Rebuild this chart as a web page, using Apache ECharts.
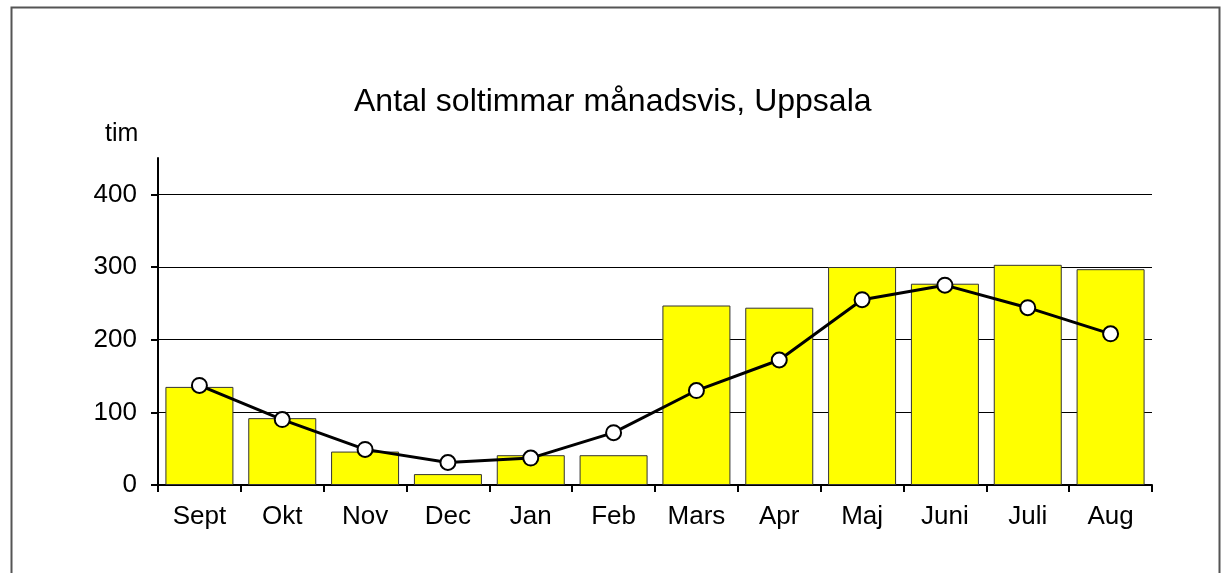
<!DOCTYPE html>
<html>
<head>
<meta charset="utf-8">
<script src="https://cdn.jsdelivr.net/npm/echarts@6/dist/echarts.min.js"></script>
<style>
  html, body { margin: 0; padding: 0; background: #fff; }
  #main { width: 1223px; height: 573px; }
</style>
</head>
<body>
<div id="main"></div>
<script>
var months = ['Sept', 'Okt', 'Nov', 'Dec', 'Jan', 'Feb', 'Mars', 'Apr', 'Maj', 'Juni', 'Juli', 'Aug'];
var barValues = [135, 92, 46, 15, 41, 41, 247, 244, 300, 277, 303, 297];
var lineValues = [137, 90, 49, 31, 37, 72, 130, 172, 255, 275, 244, 208];
var yTicks = [0, 100, 200, 300, 400];

var chart = echarts.init(document.getElementById('main'));
var font = 'Liberation Sans, Arial, sans-serif';

var option = {
    backgroundColor: '#fff',
    animation: false,
    title: {
        text: 'Antal soltimmar månadsvis, Uppsala',
        left: 349,
        top: 81,
        textStyle: { fontFamily: font, fontSize: 32, fontWeight: 'normal', color: '#000' }
    },
    graphic: [{
        type: 'rect',
        shape: { x: 11.5, y: 7.5, width: 1208, height: 600 },
        style: { fill: 'none', stroke: '#555', lineWidth: 2 }
    }, {
        type: 'text',
        left: 105,
        top: 122,
        style: { text: 'tim', font: '25px ' + font, fill: '#000' }
    }],
    grid: { left: 158, right: 71, top: 158, bottom: 88 },
    xAxis: {
        type: 'category',
        data: months,
        axisLine: { lineStyle: { color: '#000', width: 2 } },
        axisTick: { show: true, length: 7, lineStyle: { color: '#000', width: 2 } },
        axisLabel: { color: '#000', fontFamily: font, fontSize: 26, margin: 19 }
    },
    yAxis: {
        type: 'value',
        min: 0,
        max: 450,
        interval: 100,
        axisLine: { show: true, lineStyle: { color: '#000', width: 2 } },
        axisTick: { show: true, length: 7, customValues: yTicks, lineStyle: { color: '#000', width: 2 } },
        axisLabel: { color: '#000', fontFamily: font, fontSize: 26, margin: 21, customValues: yTicks },
        splitLine: { show: true, lineStyle: { color: '#000', width: 1 } }
    },
    series: [{
        type: 'bar',
        data: barValues,
        barWidth: 68,
        itemStyle: { color: '#ffff00', borderColor: '#333', borderWidth: 1 }
    }, {
        type: 'line',
        data: lineValues,
        symbol: 'circle',
        symbolSize: 15,
        lineStyle: { color: '#000', width: 3 },
        itemStyle: { color: '#fff', borderColor: '#000', borderWidth: 2 }
    }]
};

chart.setOption(option);
</script>
</body>
</html>
